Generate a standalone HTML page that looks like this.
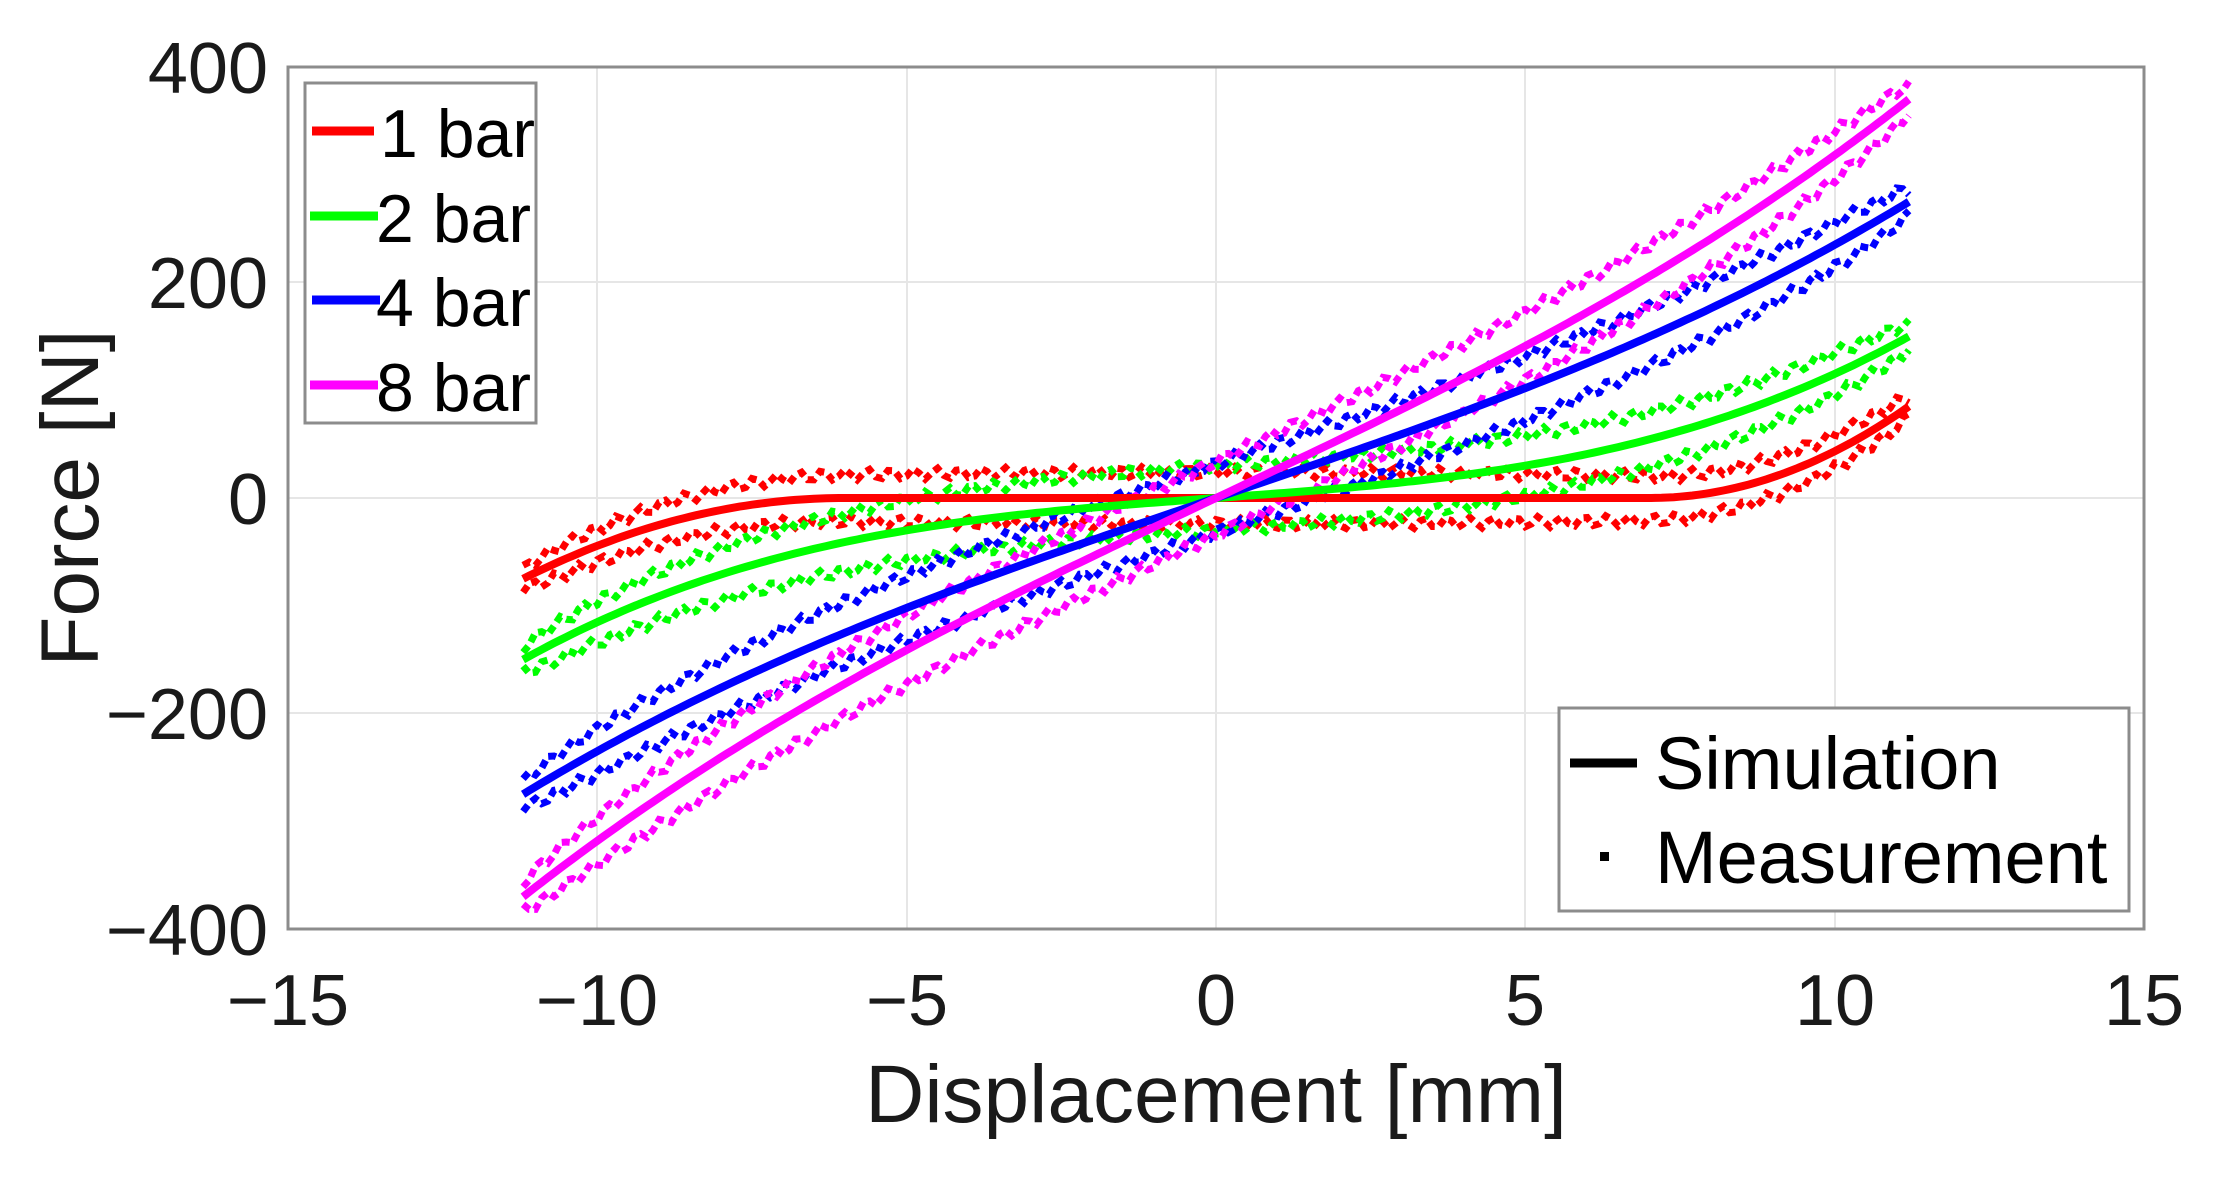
<!DOCTYPE html>
<html><head><meta charset="utf-8"><style>
html,body{margin:0;padding:0;background:#fff;width:2213px;height:1177px;overflow:hidden}
svg{display:block;font-family:"Liberation Sans",Arial,sans-serif}
</style></head><body>
<svg id="s" width="2213" height="1177" viewBox="0 0 2213 1177" xmlns="http://www.w3.org/2000/svg">
<rect width="2213" height="1177" fill="#fff"/>
<g stroke="#e6e6e6" stroke-width="2">
<line x1="597" y1="67" x2="597" y2="929"/><line x1="907" y1="67" x2="907" y2="929"/>
<line x1="1216" y1="67" x2="1216" y2="929"/><line x1="1525" y1="67" x2="1525" y2="929"/>
<line x1="1835" y1="67" x2="1835" y2="929"/>
<line x1="288" y1="282" x2="2144" y2="282"/><line x1="288" y1="498" x2="2144" y2="498"/>
<line x1="288" y1="713" x2="2144" y2="713"/>
</g>
<g id="data"></g>
<rect x="288" y="67" width="1856" height="862" fill="none" stroke="#8c8c8c" stroke-width="3"/>
<g font-size="72" fill="#1a1a1a" text-anchor="end">
<text x="268" y="93">400</text><text x="268" y="308">200</text><text x="268" y="524">0</text>
<text x="268" y="739">−200</text><text x="268" y="955">−400</text>
</g>
<g font-size="72" fill="#1a1a1a" text-anchor="middle">
<text x="288" y="1025">−15</text><text x="597" y="1025">−10</text><text x="907" y="1025">−5</text>
<text x="1216" y="1025">0</text><text x="1525" y="1025">5</text><text x="1835" y="1025">10</text><text x="2144" y="1025">15</text>
<text x="1216" y="1122" font-size="82">Displacement [mm]</text>
<text transform="translate(98,498) rotate(-90)" font-size="82">Force [N]</text>
</g>
<rect x="305" y="83" width="231" height="340" fill="#fff" stroke="#8c8c8c" stroke-width="3"/>
<g stroke-width="9">
<line x1="312" y1="131" x2="374" y2="131" stroke="#ff0000"/>
<line x1="310" y1="216" x2="378" y2="216" stroke="#00ff00"/>
<line x1="312" y1="300" x2="380" y2="300" stroke="#0000ff"/>
<line x1="310" y1="385" x2="378" y2="385" stroke="#ff00ff"/>
</g>
<g font-size="68" fill="#000">
<text x="380" y="157">1 bar</text><text x="376" y="242">2 bar</text>
<text x="376" y="326">4 bar</text><text x="376" y="411">8 bar</text>
</g>
<rect x="1559" y="708" width="570" height="203" fill="#fff" stroke="#8c8c8c" stroke-width="3"/>
<line x1="1570" y1="763" x2="1637" y2="763" stroke="#000" stroke-width="9"/>
<rect x="1600" y="852" width="9" height="9" fill="#000"/>
<g font-size="74" fill="#000">
<text x="1655" y="789">Simulation</text><text x="1655" y="883">Measurement</text>
</g>
</svg>
<script>
var X=function(x){return 1216+x*61.87},Y=function(f){return 498-f*1.0775};
function f1(x){if(x<-6){var t=(-6-x)/5.2;return -75*t*t}if(x>7){var t=(x-7)/4.2;return 85*t*t}return 0}
var S=[["#ff0000",f1,24],["#00ff00",function(x){return 4.16*x+0.0736*x*x*x},30],
["#0000ff",function(x){return 19.37*x+0.0413*x*x*x},32],["#ff00ff",function(x){return 27*x+0.0482*x*x*x},34]];
var g=document.getElementById("data"),h="";
S.forEach(function(s,i){
 for(var sg=-1;sg<=1;sg+=2){var d="";
  for(var k=0;k<=224;k++){var x=-11.2+k*0.1;var w=Math.sqrt(Math.max(0,1-Math.pow(x/11.2,2)));
   var n=Math.sin(k*1.7+i*3+sg)*5;var v=s[1](x)+sg*s[2]*(0.35+0.65*w)+n;
   d+=(k?"L":"M")+X(x).toFixed(1)+" "+Y(v).toFixed(1);}
  h+='<path d="'+d+'" fill="none" stroke="'+s[0]+'" stroke-width="7" stroke-dasharray="8 5"/>';}
});
S.forEach(function(s){var d="";
 for(var k=0;k<=224;k++){var x=-11.2+k*0.1;d+=(k?"L":"M")+X(x).toFixed(1)+" "+Y(s[1](x)).toFixed(1);}
 h+='<path d="'+d+'" fill="none" stroke="'+s[0]+'" stroke-width="8"/>';});
g.innerHTML=h;
</script>
</body></html>
